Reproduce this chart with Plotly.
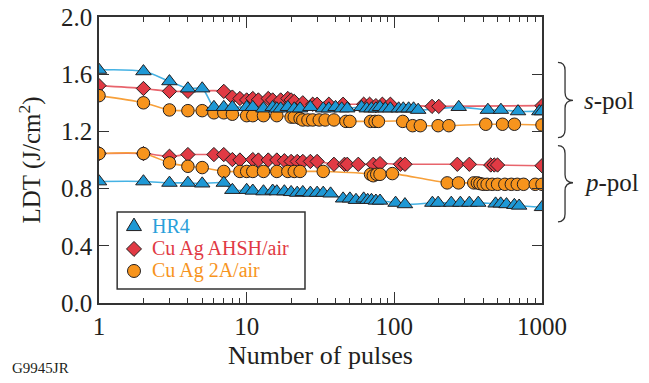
import plotly.graph_objects as go

# ---- data: laser damage threshold vs. number of pulses ----
# HR4
hr4_s_n = [1, 2, 3, 4, 5, 6, 7, 8, 10, 11, 13, 15, 16, 17, 19, 21, 23, 27, 33, 36, 40, 44, 48,
           60, 65, 70, 75, 80, 87, 94, 107, 115, 125, 135, 145, 273, 430, 527, 688, 960, 1000]
hr4_s_v = [1.63, 1.62, 1.55, 1.50, 1.50, 1.37, 1.37, 1.37, 1.37, 1.37, 1.36, 1.37, 1.36, 1.36,
           1.37, 1.36, 1.36, 1.37, 1.36, 1.36, 1.37, 1.36, 1.36, 1.37, 1.36, 1.36, 1.36, 1.37,
           1.36, 1.36, 1.36, 1.36, 1.36, 1.36, 1.35, 1.37, 1.35, 1.35, 1.34, 1.34, 1.34]
hr4_p_n = [1, 2, 3, 4, 5, 7, 8, 10, 11, 13, 15, 16, 18, 20, 22, 24, 27, 30, 33, 37,
           45, 50, 55, 62, 66, 70, 75, 80, 102, 118, 181, 198, 243, 280, 322, 370, 485, 525,
           575, 650, 700, 1000]
hr4_p_v = [0.85, 0.85, 0.84, 0.84, 0.835, 0.84, 0.79, 0.79, 0.785, 0.78, 0.785, 0.78, 0.78,
           0.775, 0.77, 0.775, 0.77, 0.77, 0.77, 0.765, 0.73, 0.73, 0.72, 0.73, 0.72, 0.72,
           0.715, 0.715, 0.70, 0.69, 0.70, 0.70, 0.70, 0.70, 0.70, 0.70, 0.695, 0.695, 0.69,
           0.685, 0.68, 0.67]

# Cu Ag AHSH/air
ahsh_s_n = [1, 2, 3, 4, 7, 8, 9, 10, 11, 12, 14, 15, 17, 19, 20, 21, 24, 28, 30, 36, 45,
            62, 68, 75, 83, 94, 180, 200, 1000]
ahsh_s_v = [1.52, 1.50, 1.48, 1.48, 1.48, 1.44, 1.43, 1.42, 1.43, 1.42, 1.43, 1.42, 1.42,
            1.43, 1.42, 1.41, 1.40, 1.39, 1.39, 1.39, 1.39, 1.39, 1.39, 1.38, 1.39, 1.39,
            1.375, 1.375, 1.38]
ahsh_p_n = [1, 2, 3, 4, 6, 7, 8, 9, 11, 12, 14, 16, 18, 20, 22, 24, 27, 30, 39, 46, 48, 57,
            72, 80, 110, 118, 267, 322, 450, 475, 500, 1000]
ahsh_p_v = [1.045, 1.045, 1.026, 1.038, 1.038, 1.038, 1.003, 1.0, 1.003, 1.0, 1.0, 1.0, 0.995,
            0.99, 0.99, 0.99, 0.99, 0.99, 0.97, 0.97, 0.97, 0.97, 0.97, 0.975, 0.97, 0.97,
            0.97, 0.97, 0.965, 0.965, 0.965, 0.96]

# Cu Ag 2A/air
a2_s_n = [1, 2, 3, 4, 5, 6, 7, 8, 10, 11, 13, 16, 20, 21, 23, 24, 26, 28, 31, 34, 39, 47, 50,
          69, 74, 78, 114, 133, 150, 198, 234, 416, 540, 650, 1000]
a2_s_v = [1.45, 1.40, 1.35, 1.345, 1.345, 1.33, 1.33, 1.32, 1.31, 1.31, 1.31, 1.31, 1.30,
          1.30, 1.29, 1.28, 1.28, 1.28, 1.28, 1.28, 1.28, 1.27, 1.27, 1.27, 1.27, 1.27, 1.27,
          1.24, 1.24, 1.24, 1.24, 1.25, 1.25, 1.25, 1.245]
a2_p_n = [1, 2, 3, 4, 5, 7, 9, 10, 11, 13, 16, 19, 21, 23, 33, 69, 72, 76, 80, 97,
          228, 272, 345, 365, 380, 400, 425, 460, 500, 560, 620, 680, 750, 900, 1000]
a2_p_v = [1.045, 1.045, 0.98, 0.956, 0.947, 0.92, 0.92, 0.92, 0.92, 0.92, 0.92, 0.92, 0.92,
          0.92, 0.92, 0.90, 0.89, 0.90, 0.90, 0.905, 0.84, 0.84, 0.84, 0.84, 0.835, 0.83,
          0.83, 0.83, 0.83, 0.83, 0.83, 0.83, 0.83, 0.83, 0.83]

x_tick_vals = [1, 10, 100, 1000]
x_tick_text = ["1", "10", "100", "1000"]
x_minor_vals = [m * d for d in (1, 10, 100) for m in range(2, 10)]

# brace extents (LDT units) and labels for the two polarization groups
brace_s = (1.683, 1.417, 1.157)
brace_p = (1.101, 0.841, 0.568)

SERIF = "Times New Roman, Liberation Serif, Times, serif"
INK = "#231F20"
FRAME = "#333333"
OUTLINE = dict(color=INK, width=1)

series = [
    # name, symbol, size, fill, line colour, s-data, p-data
    ("Cu Ag AHSH/air", "diamond", 11, "#E13A44", "#E8646C",
     (ahsh_s_n, ahsh_s_v), (ahsh_p_n, ahsh_p_v)),
    ("Cu Ag 2A/air", "circle", 12.5, "#F7941D", "#F7A03A",
     (a2_s_n, a2_s_v), (a2_p_n, a2_p_v)),
    ("HR4", "triangle-up", 13.5, "#1E98D5", "#45B2E4",
     (hr4_s_n, hr4_s_v), (hr4_p_n, hr4_p_v)),
]

fig = go.Figure()

# connecting curves underneath all markers
for name, sym, size, fill, lcol, s_dat, p_dat in series:
    for n, v in (s_dat, p_dat):
        fig.add_trace(go.Scatter(x=n, y=v, mode="lines", showlegend=False, hoverinfo="skip",
                                 line=dict(color=lcol, width=1.6, shape="spline", smoothing=0.8)))

# markers
for name, sym, size, fill, lcol, s_dat, p_dat in series:
    for n, v in (s_dat, p_dat):
        fig.add_trace(go.Scatter(
            x=n, y=v, mode="markers", name=name, showlegend=False,
            marker=dict(symbol=sym, size=size, color=fill, line=OUTLINE)))

# ---- boxed key in the lower-left corner ----
key_box = dict(x0=0.041, x1=0.465, y0=0.049, y1=0.318)
key_rows = [("HR4", "#1E98D5", "#2A9FDA", 0.269),
            ("Cu Ag AHSH/air", "#E13A44", "#E13A44", 0.189),
            ("Cu Ag 2A/air", "#F7941D", "#F7941D", 0.112)]
key_glyph_x = 0.079
key_text_x = 0.115
glyph_paths = {
    "HR4": "M-7.5,-4.5 L7.5,-4.5 L0,8 Z",
    "Cu Ag AHSH/air": "M0,7.5 L7.5,0 L0,-7.5 L-7.5,0 Z",
}

fig.add_shape(type="rect", xref="paper", yref="paper", **key_box,
              line=dict(color=FRAME, width=1.5), fillcolor="white", layer="above")
for name, fill, tcol, ky in key_rows:
    common = dict(xref="paper", yref="paper", xsizemode="pixel", ysizemode="pixel",
                  xanchor=key_glyph_x, yanchor=ky, fillcolor=fill,
                  line=dict(color=INK, width=1), layer="above")
    if name in glyph_paths:
        fig.add_shape(type="path", path=glyph_paths[name], **common)
    else:
        fig.add_shape(type="circle", x0=-6.5, x1=6.5, y0=-6.5, y1=6.5, **common)
    fig.add_annotation(x=key_text_x, y=ky, xref="paper", yref="paper", text=name,
                       showarrow=False, xanchor="left", yanchor="middle",
                       font=dict(family=SERIF, size=20, color=tcol))


def brace(x0, x1, x2, top, mid, bot, d):
    return (f"M{x0},{top} Q{x1},{top} {x1},{top - d} L{x1},{mid + d} "
            f"Q{x1},{mid} {x2},{mid} Q{x1},{mid} {x1},{mid - d} "
            f"L{x1},{bot + d} Q{x1},{bot} {x0},{bot}")


for (top, mid, bot), lab in ((brace_s, "<i>s</i>-pol"), (brace_p, "<i>p</i>-pol")):
    fig.add_shape(type="path", xref="paper", yref="y",
                  path=brace(1.036, 1.052, 1.070, top, mid, bot, 0.055),
                  line=dict(color=FRAME, width=1.3))
    fig.add_annotation(x=1.09, y=mid, xref="paper", yref="y", text=lab, showarrow=False,
                       xanchor="left", yanchor="middle",
                       font=dict(family=SERIF, size=25, color=INK))

fig.add_annotation(x=-0.2, y=-0.227, xref="paper", yref="paper", text="G9945JR",
                   showarrow=False, xanchor="left", yanchor="middle",
                   font=dict(family=SERIF, size=15, color=INK))

axis_common = dict(showline=True, linecolor=FRAME, linewidth=1.5, mirror="ticks",
                   ticks="inside", tickcolor=FRAME, tickwidth=1.2, showgrid=False,
                   zeroline=False, tickfont=dict(family=SERIF, size=25, color=INK))

fig.update_xaxes(type="log", range=[0, 3], tickvals=x_tick_vals, ticktext=x_tick_text,
                 ticklen=11,
                 minor=dict(ticks="inside", ticklen=5, tickcolor=FRAME, tickwidth=1.2,
                            tickvals=x_minor_vals, showgrid=False),
                 title=dict(text="Number of pulses", standoff=7,
                            font=dict(family=SERIF, size=26, color=INK)),
                 **axis_common)
fig.update_yaxes(range=[0, 2], dtick=0.4, tick0=0, tickformat=".1f", ticklen=10,
                 title=dict(text="LDT (J/cm<sup>2</sup>)", standoff=13,
                            font=dict(family=SERIF, size=25, color=INK)),
                 **axis_common)

fig.update_layout(
    width=649, height=383,
    margin=dict(l=99, r=107, t=17, b=80, autoexpand=False),
    plot_bgcolor="white", paper_bgcolor="white",
    showlegend=False,
)

fig.write_html("out.html")
